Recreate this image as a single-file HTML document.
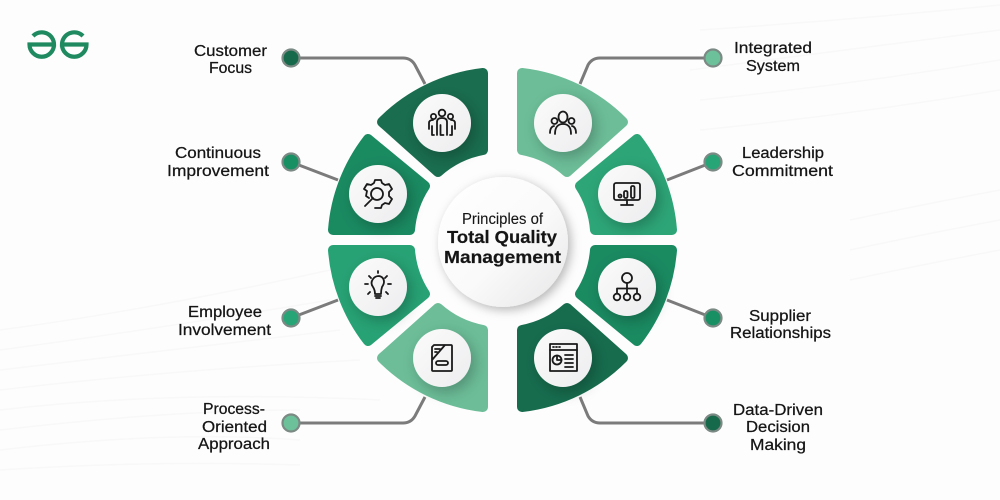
<!DOCTYPE html>
<html><head><meta charset="utf-8">
<style>html,body{margin:0;padding:0;background:#fff}svg{display:block}
text{font-family:"Liberation Sans",sans-serif;fill:#151515;font-size:15.500px;stroke:#151515;stroke-width:.25}
.c{font-size:17.500px;font-weight:bold;stroke-width:.2}
.i *{fill:none;stroke:#1a1a1a;stroke-width:1.8;stroke-linecap:round;stroke-linejoin:round}
</style></head><body>
<svg width="1000" height="500" viewBox="0 0 1000 500" xmlns="http://www.w3.org/2000/svg">
<defs>
<filter id="s" x="-50%" y="-50%" width="200%" height="200%"><feDropShadow dx="4" dy="5" stdDeviation="7" flood-color="#000" flood-opacity=".24"/></filter>
<filter id="s2" x="-30%" y="-30%" width="170%" height="170%"><feDropShadow dx="3" dy="3" stdDeviation="5" flood-color="#000" flood-opacity=".28"/></filter>
<linearGradient id="w" x1="0" y1="0" x2="1" y2="1"><stop offset="0" stop-color="#fff"/><stop offset=".55" stop-color="#fafafa"/><stop offset="1" stop-color="#e6e6e8"/></linearGradient>
<linearGradient id="k" x1="0" y1="0" x2="1" y2="1"><stop offset="0" stop-color="#fbfbfb"/><stop offset="1" stop-color="#ededef"/></linearGradient>
<path id="a" d="M483 73A170 170 0 0 0 382 122L438 172A94 94 0 0 1 483 150Z"/>
<path id="b" d="M333 230A170 170 0 0 1 368 139L425 186A94 94 0 0 0 410 230Z"/>
</defs>
<rect width="1000" height="500" fill="#fdfdfd"/>
<g fill="none" stroke="#f8f8f8" stroke-width="1.500">
<path d="M0 330Q150 310 330 270M0 350Q150 330 330 300M0 370Q170 350 340 330M0 390Q170 370 360 360M0 410Q170 390 380 400M0 430Q170 410 300 410M0 450Q170 430 300 440M0 470Q150 460 300 465"/>
<path d="M700 30Q850 20 1000 5M690 70Q850 50 1000 30M700 100Q850 85 1000 60M700 130Q850 115 1000 90M850 220Q920 205 1000 190M850 250Q920 235 1000 220M850 280Q920 265 1000 250"/>
</g>
<!-- logo -->
<g fill="none" stroke="#1f8a5f" stroke-width="4.200">
<path d="M33 36A12.250 12.250 0 0 1 54 44.500H29.500A12.250 12.250 0 0 0 54 44.500"/>
<path d="M83 36A12.250 12.250 0 0 0 62 44.500H86.500A12.250 12.250 0 0 1 62 44.500"/>
</g>
<!-- connectors -->
<g fill="none" stroke="#7b7b7b" stroke-width="3">
<path d="M291 58H403Q411 58 415 65L425 84"/>
<path d="M291 162L338 180"/>
<path d="M291 318L338 300"/>
<path d="M291 423H403Q411 423 415 416L425 397"/>
<path d="M713 58H600Q592 58 588 65L580 84"/>
<path d="M713 162L667 180"/>
<path d="M713 318L667 300"/>
<path d="M713 423H600Q592 423 588 416L580 397"/>
</g>
<g stroke="#7b8a84" stroke-width="2.200">
<circle cx="291" cy="58" r="8.500" fill="#17694b"/>
<circle cx="291" cy="162" r="8.500" fill="#189064"/>
<circle cx="291" cy="318" r="8.500" fill="#27a577"/>
<circle cx="291" cy="423" r="8.500" fill="#6cc09a"/>
<circle cx="713" cy="58" r="8.500" fill="#6cc09a"/>
<circle cx="713" cy="162" r="8.500" fill="#27a577"/>
<circle cx="713" cy="318" r="8.500" fill="#189064"/>
<circle cx="713" cy="423" r="8.500" fill="#17694b"/>
</g>
<!-- segments -->
<g stroke-width="10" stroke-linejoin="round">
<use href="#a" fill="#1a6d4f" stroke="#1a6d4f"/>
<use href="#b" fill="#1a8a61" stroke="#1a8a61"/>
<g transform="translate(0,480) scale(1,-1)">
<use href="#b" fill="#27a275" stroke="#27a275"/>
<use href="#a" fill="#6cbd98" stroke="#6cbd98"/>
</g>
<g transform="translate(1005,0) scale(-1,1)">
<use href="#a" fill="#6cbd98" stroke="#6cbd98"/>
<use href="#b" fill="#2da577" stroke="#2da577"/>
<g transform="translate(0,480) scale(1,-1)">
<use href="#b" fill="#1a8a61" stroke="#1a8a61"/>
<use href="#a" fill="#176c4e" stroke="#176c4e"/>
</g>
</g>
</g>
<!-- centre -->
<circle cx="503" cy="242" r="65" fill="url(#w)" filter="url(#s2)"/>
<!-- white discs -->
<g fill="url(#k)" filter="url(#s)">
<circle cx="442" cy="123" r="29"/><circle cx="378" cy="194" r="29"/>
<circle cx="378" cy="287" r="29"/><circle cx="442" cy="358" r="29"/>
<circle cx="563" cy="123" r="29"/><circle cx="627" cy="194" r="29"/>
<circle cx="627" cy="287" r="29"/><circle cx="563" cy="358" r="29"/>
</g>
<!-- icons -->
<g class="i">
<g transform="translate(442,123)">
<circle cx="0" cy="-10" r="3.300"/><circle cx="-8.500" cy="-6.500" r="2.600"/><circle cx="8.500" cy="-6.500" r="2.600"/>
<path d="M-5 12V-1Q-5-5 0-5Q5-5 5-1V12M-1.500 12V2M1.500 12H-1.500M-13 6V0Q-13-3-9-3M13 6V0Q13-3 9-3M-10 12V3M-8 12H-10M10 12V3M8 12H10"/>
</g>
<g transform="translate(378,194)">
<path d="M-9 4L-12 2L-11-3L-14-5L-11-10L-7-9L-4-11L-3-14H3L4-11L7-9L11-10L14-5L11-2V2L14 5L11 10L7 9L4 11L3 14H-3"/>
<circle cx="-1" cy="-0" r="6"/>
<path d="M-5 4L-13 12" stroke-width="2.600"/>
</g>
<g transform="translate(378,287)">
<path d="M-3 7Q-3 3-5 0Q-8-4-5-8Q-3-11 1-11Q6-10 6-5Q6-3 4 0Q3 3 3 7Z"/>
<path d="M-3 9H3M-2 11H2M-13-3H-10M10-3H13M-9-11L-7-9M9-11L7-9M0-16V-14M-10 7L-8 5M10 7L8 5"/>
</g>
<g transform="translate(442,358)">
<path d="M-8-13H9Q10-13 10-12V12Q10 13 9 13H-9Q-10 13-10 12V-11ZM3-13L-10 2" stroke-width="2"/>
<path d="M-7-9H-2M-7-6H-5"/>
<rect x="-6" y="3" width="12" height="4" rx="2"/>
</g>
<g transform="translate(563,123)">
<ellipse cx="0" cy="-6" rx="4.500" ry="5.500"/><circle cx="-8.500" cy="-2" r="3"/><circle cx="8.500" cy="-2" r="3"/>
<path d="M-8 11Q-8 1 0 1Q8 1 8 11M-13 10Q-13 4-9 3M13 10Q13 4 9 3"/>
</g>
<g transform="translate(627,194)">
<rect x="-13" y="-11" width="26" height="17" rx="2" stroke-width="2"/>
<path d="M0 6V11M-6 11H6" stroke-width="2"/>
<circle cx="-7" cy="2" r="1.500"/><rect x="-3" y="-3" width="3.500" height="7" rx="1.500"/><rect x="4" y="-8" width="3.500" height="12" rx="1.500"/>
</g>
<g transform="translate(627,287)">
<circle cx="0" cy="-9" r="5"/><circle cx="-10" cy="10" r="3.300"/><circle cx="0" cy="10" r="3.300"/><circle cx="10" cy="10" r="3.300"/>
<path d="M0-4V6.500M-10 6.500V1.500H10V6.500"/>
</g>
<g transform="translate(563,358)">
<rect x="-13" y="-14" width="27" height="27" stroke-width="1.500"/>
<path d="M-13-8H14M-10-11H-9M-7-11H-6M-4-11H-3"/>
<circle cx="-6" cy="2" r="4.500"/>
<path d="M-6 2V-2.500M-6 2H-1.500M2-3H10M2 1H10M2 5H10M2 9H10"/>
</g>
</g>
<!-- labels -->
<text x="194" y="56" textLength="73" lengthAdjust="spacingAndGlyphs">Customer</text>
<text x="209" y="73" textLength="43" lengthAdjust="spacingAndGlyphs">Focus</text>
<text x="175" y="158" textLength="86" lengthAdjust="spacingAndGlyphs">Continuous</text>
<text x="167" y="176" textLength="102" lengthAdjust="spacingAndGlyphs">Improvement</text>
<text x="188" y="317" textLength="74" lengthAdjust="spacingAndGlyphs">Employee</text>
<text x="178" y="335" textLength="93" lengthAdjust="spacingAndGlyphs">Involvement</text>
<text x="203" y="414" textLength="62" lengthAdjust="spacingAndGlyphs">Process-</text>
<text x="202" y="432" textLength="65" lengthAdjust="spacingAndGlyphs">Oriented</text>
<text x="198" y="449" textLength="72" lengthAdjust="spacingAndGlyphs">Approach</text>
<text x="734" y="53" textLength="78" lengthAdjust="spacingAndGlyphs">Integrated</text>
<text x="746" y="71" textLength="54" lengthAdjust="spacingAndGlyphs">System</text>
<text x="742" y="158" textLength="82" lengthAdjust="spacingAndGlyphs">Leadership</text>
<text x="732" y="176" textLength="101" lengthAdjust="spacingAndGlyphs">Commitment</text>
<text x="749" y="321" textLength="62" lengthAdjust="spacingAndGlyphs">Supplier</text>
<text x="730" y="338" textLength="101" lengthAdjust="spacingAndGlyphs">Relationships</text>
<text x="733" y="415" textLength="90" lengthAdjust="spacingAndGlyphs">Data-Driven</text>
<text x="746" y="432" textLength="64" lengthAdjust="spacingAndGlyphs">Decision</text>
<text x="750" y="450" textLength="56" lengthAdjust="spacingAndGlyphs">Making</text>
<text x="462" y="224" textLength="81" lengthAdjust="spacingAndGlyphs" style="stroke-width:.1">Principles of</text>
<text class="c" x="447" y="243" textLength="110" lengthAdjust="spacingAndGlyphs">Total Quality</text>
<text class="c" x="444" y="263" textLength="117" lengthAdjust="spacingAndGlyphs">Management</text>
</svg>
</body></html>
